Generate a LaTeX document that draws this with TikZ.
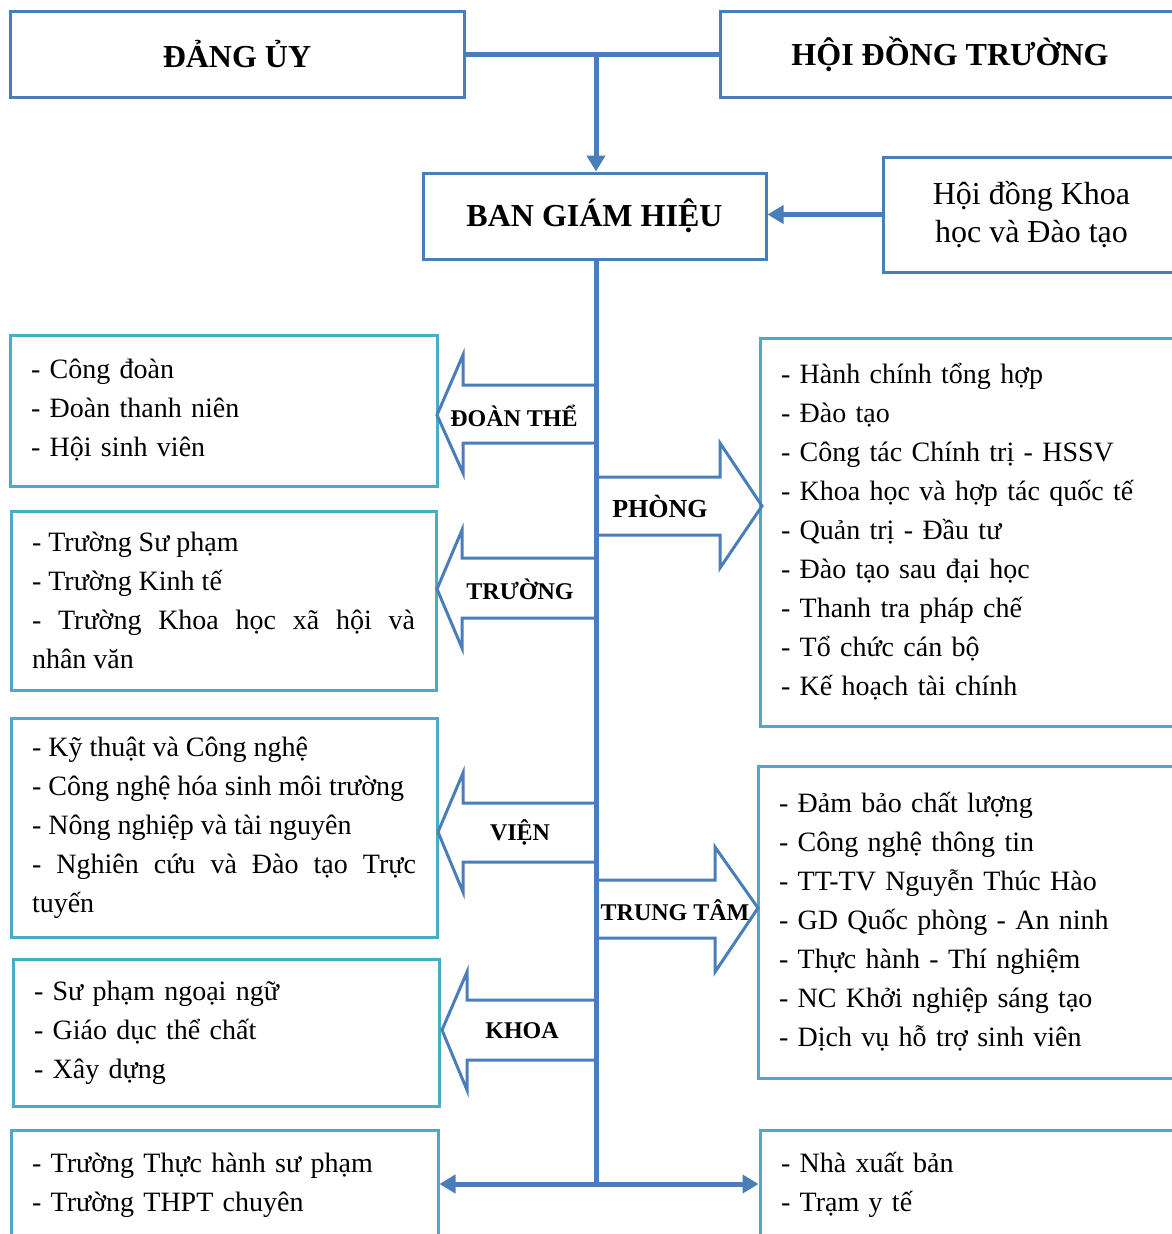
\documentclass[tikz,border=0pt]{standalone}
\usepackage{fontspec}
\setmainfont{Liberation Serif}
\usetikzlibrary{positioning}
\usetikzlibrary{arrows.meta}
\definecolor{dblue}{HTML}{4A7EBB}
\definecolor{cyanb}{HTML}{4BACC6}

\begin{document}
\begin{tikzpicture}[x=1pt,y=-1pt,
  headbox/.style={draw=dblue,line width=3pt,font=\fontsize{32}{38}\selectfont\bfseries},
  unitbox/.style={draw=cyanb,line width=3pt,inner xsep=21pt,align=left,
    font=\fontsize{28}{39}\selectfont},
  bigarrow/.style={draw=dblue,line width=3pt,line join=miter},
  tag/.style={font=\fontsize{24}{28}\selectfont\bfseries},
  link/.style={draw=dblue,line width=5pt},
  tip/.style={-{Triangle[length=16pt,width=18pt]}}]
\useasboundingbox (0,0) rectangle (1172,1234);

% lanh dao
\node[headbox,minimum width=454pt,minimum height=86pt] (dangu) at (237,54) {ĐẢNG ỦY};
\node[headbox,minimum width=460pt,minimum height=86pt] (hdt) at (950,54) {HỘI ĐỒNG TRƯỜNG};
\node[headbox,minimum width=343pt,minimum height=86pt] (bgh) at (594.5,216) {BAN GIÁM HIỆU};
\node[draw=dblue,line width=3pt,minimum width=297pt,minimum height=115pt,align=center,
  font=\fontsize{32}{38}\selectfont] (hdkh) at (1031.5,214.5) {Hội đồng Khoa\\học và Đào tạo};

% ben trai
\node[unitbox,text width=385pt,minimum height=151pt] (doanthe) at (223.5,410.5) {
  - Công đoàn\\
  - Đoàn thanh niên\\
  - Hội sinh viên
};
\node[unitbox,text width=383pt,minimum height=179pt,align=justify] (truong) at (223.5,600.5) {
  - Trường Sư phạm\\
  - Trường Kinh tế\\
  - Trường Khoa học xã hội và\linebreak nhân văn
};
\node[unitbox,text width=384pt,minimum height=219pt,align=justify] (vien) at (224,827.5) {
  - Kỹ thuật và Công nghệ\\
  - Công nghệ hóa sinh môi trường\\
  - Nông nghiệp và tài nguyên\\
  - Nghiên cứu và Đào tạo Trực\linebreak tuyến
};
\node[unitbox,text width=384pt,minimum height=147pt] (khoa) at (226,1032.5) {
  - Sư phạm ngoại ngữ\\
  - Giáo dục thể chất\\
  - Xây dựng
};
\node[unitbox,text width=385pt,minimum height=110pt] (thpt) at (224.5,1185) {
  - Trường Thực hành sư phạm\\
  - Trường THPT chuyên
};

% ben phai
\node[unitbox,text width=378pt,minimum height=388pt] (phong) at (970,532) {
  - Hành chính tổng hợp\\
  - Đào tạo\\
  - Công tác Chính trị - HSSV\\
  - Khoa học và hợp tác quốc tế\\
  - Quản trị - Đầu tư\\
  - Đào tạo sau đại học\\
  - Thanh tra pháp chế\\
  - Tổ chức cán bộ\\
  - Kế hoạch tài chính
};
\node[unitbox,text width=380pt,minimum height=312pt] (trungtam) at (969,922) {
  - Đảm bảo chất lượng\\
  - Công nghệ thông tin\\
  - TT-TV Nguyễn Thúc Hào\\
  - GD Quốc phòng - An ninh\\
  - Thực hành - Thí nghiệm\\
  - NC Khởi nghiệp sáng tạo\\
  - Dịch vụ hỗ trợ sinh viên
};
\node[unitbox,text width=378pt,minimum height=110pt] (nxb) at (970,1185) {
  - Nhà xuất bản\\
  - Trạm y tế
};

% mui ten lon
\draw[bigarrow] (596,385) -- (463,385) -- (463,355) -- (437,415) -- (463,473) -- (463,443) -- (596,443);
\draw[bigarrow] (596,558) -- (462,558) -- (462,530) -- (437,589) -- (462,648) -- (462,618) -- (596,618);
\draw[bigarrow] (596,803) -- (463,803) -- (463,773) -- (438,832) -- (463,892) -- (463,862) -- (596,862);
\draw[bigarrow] (596,1000) -- (467,1000) -- (467,972) -- (442,1030) -- (467,1090) -- (467,1060) -- (596,1060);
\draw[bigarrow] (596,477) -- (720,477) -- (720,443) -- (762,506) -- (720,568) -- (720,535) -- (596,535);
\draw[bigarrow] (596,880) -- (715,880) -- (715,847) -- (758,908) -- (715,972) -- (715,938) -- (596,938);
\node[tag] (tdoanthe) at (514,416) {ĐOÀN THỂ};
\node[tag] (ttruong) at (520,589) {TRƯỜNG};
\node[tag] (tvien) at (520,832) {VIỆN};
\node[tag] (tkhoa) at (522,1031) {KHOA};
\node[tag,font=\fontsize{26}{30}\selectfont\bfseries] (tphong) at (660,506) {PHÒNG};
\node[tag] (ttrungtam) at (675,910) {TRUNG TÂM};

% duong noi
\coordinate (top) at (596,54);
\coordinate (bot) at (596,1184);
\draw[link] (dangu.east) -- (hdt.west);
\draw[link,tip] (top) -- (bgh.north -| top);
\draw[link,tip] (hdkh.west) -- (bgh.east |- hdkh.west);
\draw[link] (bgh.south -| bot) -- (bot);
\draw[link,{Triangle[length=16pt,width=18pt]}-{Triangle[length=16pt,width=18pt]}]
  (thpt.east |- bot) -- (nxb.west |- bot);
\end{tikzpicture}
\end{document}
